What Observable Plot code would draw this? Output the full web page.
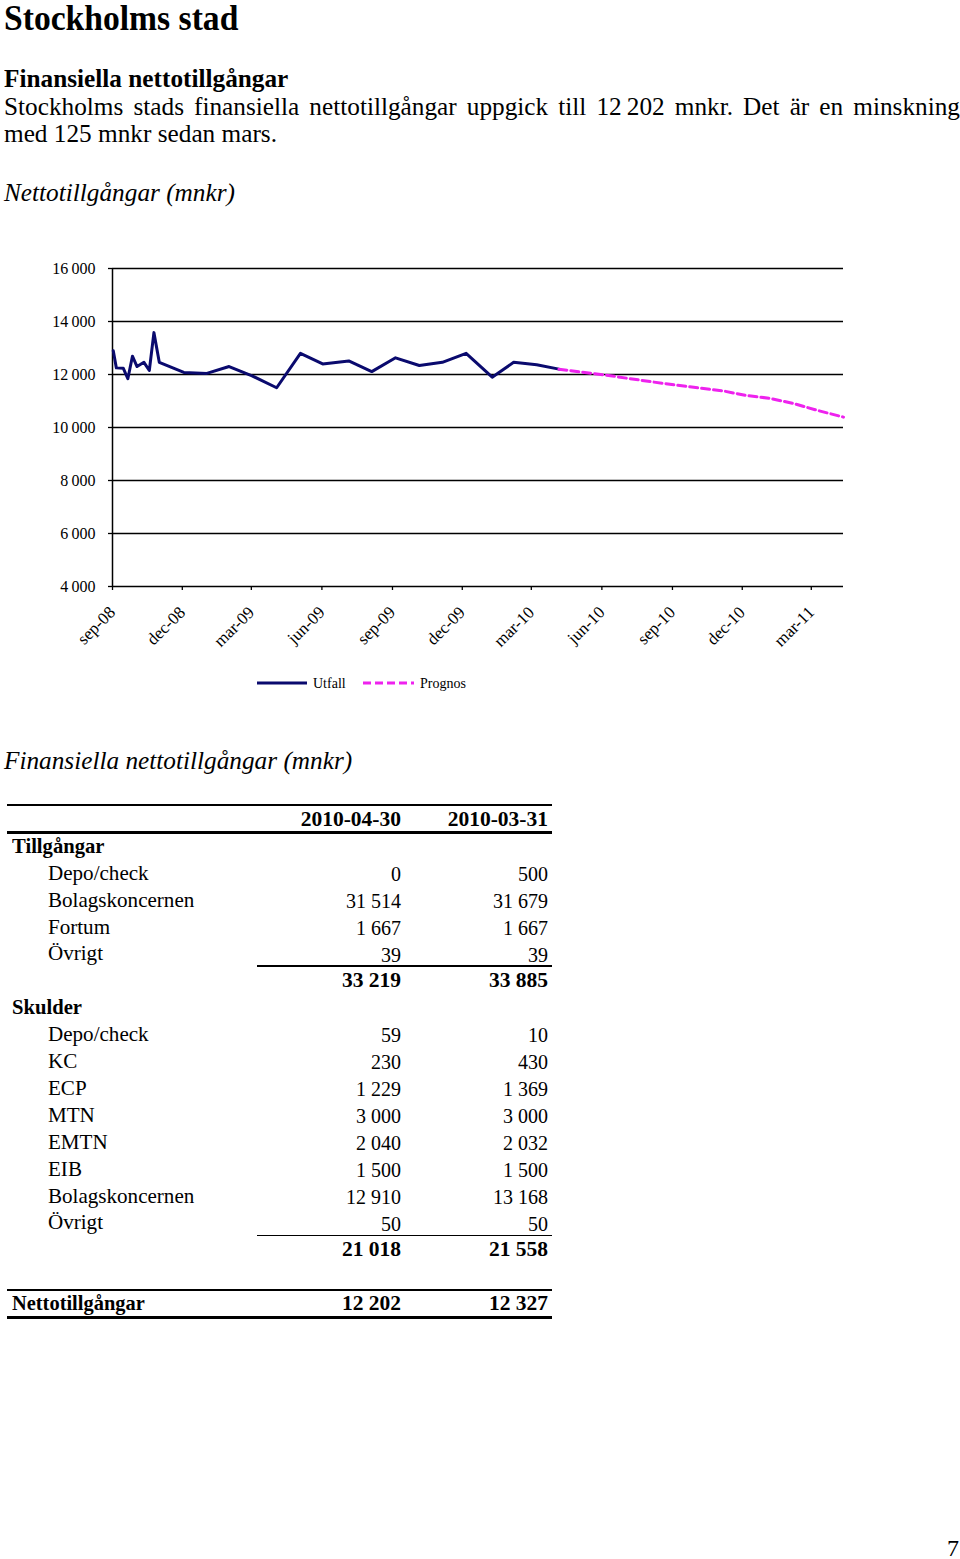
<!DOCTYPE html>
<html><head><meta charset="utf-8">
<script src="https://cdn.jsdelivr.net/npm/d3@7"></script>
<script src="https://cdn.jsdelivr.net/npm/@observablehq/plot@0.6"></script>
<style>
html,body{margin:0;padding:0;background:#fff;}
body{width:960px;height:1559px;position:relative;overflow:hidden;font-family:"Liberation Serif","Times New Roman",serif;color:#000;}
#wrap{position:absolute;left:0;top:0;width:960px;height:1559px;}
.t{position:absolute;white-space:nowrap;font-family:"Liberation Serif","Times New Roman",serif;}
.rule{position:absolute;background:#000;}
#chart{position:absolute;left:0;top:250px;}
#legend{position:absolute;left:0;top:670px;width:960px;height:26px;}
</style></head><body>
<div id="wrap"></div>
<div id="chart"></div>
<svg id="legend" width="960" height="26"></svg>
<script>
// ---------- chart data ----------
const utfallDates = ["2008-09-02","2008-09-06","2008-09-15","2008-09-21","2008-09-27","2008-10-03","2008-10-12","2008-10-19","2008-10-25","2008-11-01","2008-12-03","2009-01-02","2009-01-31","2009-03-02","2009-04-03","2009-05-04","2009-06-02","2009-07-06","2009-08-05","2009-09-05","2009-10-06","2009-11-05","2009-12-06","2010-01-09","2010-02-06","2010-03-08","2010-04-06"];
const utfallValues = [12900,12250,12240,11840,12690,12300,12460,12150,13580,12460,12080,12040,12300,11950,11500,12800,12400,12510,12110,12630,12340,12460,12800,11900,12460,12370,12202];
const prognosDates = ["2010-04-06","2010-05-06","2010-06-06","2010-07-06","2010-08-06","2010-09-06","2010-10-06","2010-11-06","2010-12-06","2011-01-06","2011-02-06","2011-03-06","2011-04-12"];
const prognosValues = [12202,12090,11980,11850,11720,11600,11490,11380,11210,11100,10905,10670,10390];
const yTicks = [4000,6000,8000,10000,12000,14000,16000];
const xTickDates = ["2008-09-01","2008-12-01","2009-03-01","2009-06-01","2009-09-01","2009-12-01","2010-03-01","2010-06-01","2010-09-01","2010-12-01","2011-03-01"];
const xTickLabels = ["sep-08","dec-08","mar-09","jun-09","sep-09","dec-09","mar-10","jun-10","sep-10","dec-10","mar-11"];
const xDomain = ["2008-09-01","2011-04-12"];
const seriesNames = ["Utfall","Prognos"];
const seriesColors = ["#0a0a6e","#ee22ee"];

// ---------- table data ----------
const colHeaders = ["2010-04-30","2010-03-31"];
const assetLabels = ["Depo/check","Bolagskoncernen","Fortum","Övrigt"];
const assetApr = ["0","31 514","1 667","39"];
const assetMar = ["500","31 679","1 667","39"];
const assetTotals = ["33 219","33 885"];
const debtLabels = ["Depo/check","KC","ECP","MTN","EMTN","EIB","Bolagskoncernen","Övrigt"];
const debtApr = ["59","230","1 229","3 000","2 040","1 500","12 910","50"];
const debtMar = ["10","430","1 369","3 000","2 032","1 500","13 168","50"];
const debtTotals = ["21 018","21 558"];
const netTotals = ["12 202","12 327"];

// ---------- chart ----------
const parse = d3.utcParse("%Y-%m-%d");
const utfall = utfallDates.map((d,i)=>({date:parse(d), value:utfallValues[i]}));
const prognos = prognosDates.map((d,i)=>({date:parse(d), value:prognosValues[i]}));
const xTicks = xTickDates.map(parse);
const labelByTime = new Map(xTicks.map((d,i)=>[+d, xTickLabels[i]]));
const fmt = d => d3.format(",")(d).replace(",", "\u2009");

const chart = Plot.plot({
  width: 960, height: 420,
  marginLeft: 112, marginRight: 117, marginTop: 18, marginBottom: 84,
  style: {fontFamily: "'Liberation Serif', serif", background: "white", color: "black", overflow: "visible"},
  x: {type: "utc", domain: xDomain.map(parse)},
  y: {domain: [4000, 16000]},
  marks: [
    Plot.ruleY(yTicks, {stroke: "black", strokeWidth: 1.3}),
    Plot.ruleX([parse(xDomain[0])], {stroke: "black", strokeWidth: 1.5}),
    Plot.axisY({ticks: yTicks, tickFormat: fmt, tickSize: 4, tickPadding: 13, fontSize: 16, strokeWidth: 1.3, label: null}),
    Plot.axisX({ticks: xTicks, tickFormat: d => labelByTime.get(+d), tickRotate: -45, tickSize: 4, tickPadding: 19, fontSize: 17, strokeWidth: 1.3, label: null}),
    Plot.line(utfall, {x: "date", y: "value", stroke: seriesColors[0], strokeWidth: 3, strokeLinejoin: "round", strokeLinecap: "round"}),
    Plot.line(prognos, {x: "date", y: "value", stroke: seriesColors[1], strokeWidth: 3, strokeDasharray: "8,4"})
  ]
});
document.getElementById("chart").appendChild(chart);

// legend
const lg = d3.select("#legend");
lg.append("line").attr("x1",257).attr("x2",307).attr("y1",13).attr("y2",13).attr("stroke",seriesColors[0]).attr("stroke-width",3);
lg.append("text").attr("x",313).attr("y",18).attr("font-size",14).attr("font-family","Liberation Serif").text(seriesNames[0]);
lg.append("line").attr("x1",363).attr("x2",414).attr("y1",13).attr("y2",13).attr("stroke",seriesColors[1]).attr("stroke-width",3).attr("stroke-dasharray","8,4");
lg.append("text").attr("x",420).attr("y",18).attr("font-size",14).attr("font-family","Liberation Serif").text(seriesNames[1]);

// ---------- text ----------
const wrap = document.getElementById("wrap");
function addText(txt, o) {
  const size = o.size, L = size * 1.107;
  const sx = o.sx || 1;
  const el = document.createElement("div");
  el.className = "t";
  el.textContent = txt;
  el.style.fontSize = size + "px";
  el.style.lineHeight = L + "px";
  if (o.bold) el.style.fontWeight = "bold";
  if (o.italic) el.style.fontStyle = "italic";
  el.style.top = (o.baseline - 0.891 * size) + "px";
  if (o.anchor === "end") { el.style.right = (960 - o.x) + "px"; el.style.transformOrigin = "100% 0"; }
  else { el.style.left = o.x + "px"; el.style.transformOrigin = "0 0"; }
  if (sx !== 1) el.style.transform = "scaleX(" + sx + ")";
  if (o.width) { el.style.width = (o.width / sx) + "px"; el.style.whiteSpace = "normal"; el.style.textAlign = "justify"; el.style.textAlignLast = "justify"; }
  wrap.appendChild(el);
  return el;
}
function addRule(x1, x2, y, h) {
  const el = document.createElement("div");
  el.className = "rule";
  el.style.left = x1 + "px";
  el.style.width = (x2 - x1) + "px";
  el.style.top = (y - h / 2) + "px";
  el.style.height = h + "px";
  wrap.appendChild(el);
}

const BS = 26, BX = 0.972;
addText("Stockholms stad", {x: 4, baseline: 31, size: 35, bold: true, sx: 0.96});
addText("Finansiella nettotillgångar", {x: 4, baseline: 88, size: BS, bold: true, sx: BX});
addText("Stockholms stads finansiella nettotillgångar uppgick till 12\u202F202 mnkr. Det är en minskning", {x: 4, baseline: 116, size: BS, sx: BX, width: 956});
addText("med 125 mnkr sedan mars.", {x: 4, baseline: 143, size: BS, sx: BX});
addText("Nettotillgångar (mnkr)", {x: 4, baseline: 202, size: BS, italic: true, sx: BX});
addText("Finansiella nettotillgångar (mnkr)", {x: 4, baseline: 770, size: BS, italic: true, sx: BX});

// table
const TS = 21.5, NS = 20, c1 = 401, c2 = 548, lx = 12, ix = 48;
addRule(7, 552, 805, 1.6);
addText(colHeaders[0], {x: c1, baseline: 827, size: TS, bold: true, anchor: "end"});
addText(colHeaders[1], {x: c2, baseline: 827, size: TS, bold: true, anchor: "end"});
addRule(7, 552, 832.5, 3);
const rowY = i => 854 + 26.9 * i;
addText("Tillgångar", {x: lx, baseline: rowY(0), size: TS, bold: true, sx: 0.96});
assetLabels.forEach((l, i) => {
  addText(l, {x: ix, baseline: rowY(1 + i), size: TS, sx: 0.98});
  addText(assetApr[i], {x: c1, baseline: rowY(1 + i), size: NS, anchor: "end"});
  addText(assetMar[i], {x: c2, baseline: rowY(1 + i), size: NS, anchor: "end"});
});
addRule(257, 552, 966, 1.6);
addText(assetTotals[0], {x: c1, baseline: rowY(5), size: TS, bold: true, anchor: "end"});
addText(assetTotals[1], {x: c2, baseline: rowY(5), size: TS, bold: true, anchor: "end"});
addText("Skulder", {x: lx, baseline: rowY(6), size: TS, bold: true, sx: 0.96});
debtLabels.forEach((l, i) => {
  addText(l, {x: ix, baseline: rowY(7 + i), size: TS, sx: 0.98});
  addText(debtApr[i], {x: c1, baseline: rowY(7 + i), size: NS, anchor: "end"});
  addText(debtMar[i], {x: c2, baseline: rowY(7 + i), size: NS, anchor: "end"});
});
addRule(257, 552, 1235.5, 1.6);
addText(debtTotals[0], {x: c1, baseline: rowY(15), size: TS, bold: true, anchor: "end"});
addText(debtTotals[1], {x: c2, baseline: rowY(15), size: TS, bold: true, anchor: "end"});
addRule(7, 552, 1290, 2);
addText("Nettotillgångar", {x: lx, baseline: 1311, size: TS, bold: true, sx: 0.95});
addText(netTotals[0], {x: c1, baseline: 1311, size: TS, bold: true, anchor: "end"});
addText(netTotals[1], {x: c2, baseline: 1311, size: TS, bold: true, anchor: "end"});
addRule(7, 552, 1317.5, 3);

addText("7", {x: 959, baseline: 1556, size: 24, anchor: "end"});
</script>
</body></html>
